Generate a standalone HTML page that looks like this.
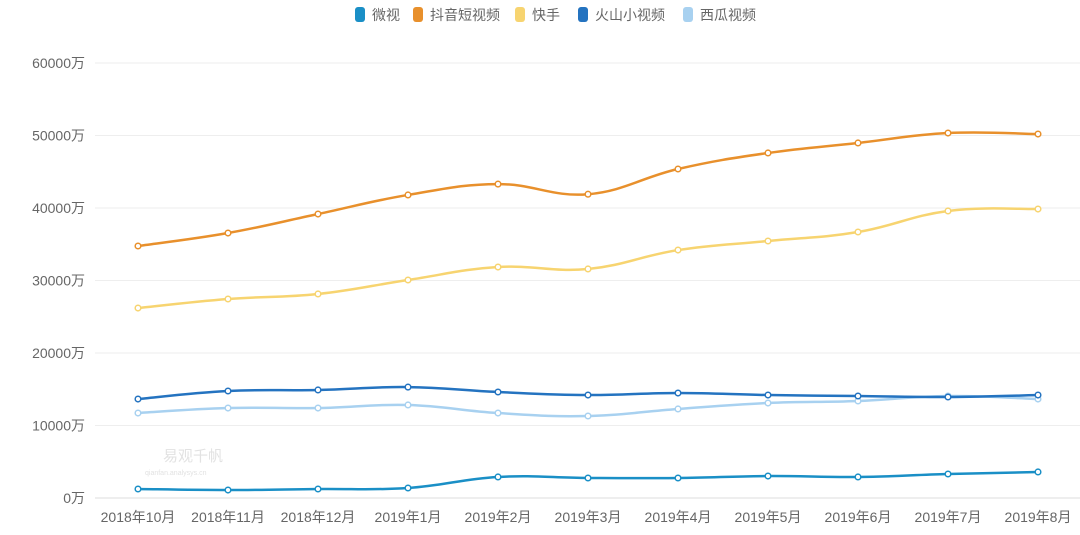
<!DOCTYPE html>
<html><head><meta charset="utf-8"><style>
body{margin:0;background:#fff;}
svg{display:block;font-family:"Liberation Sans","Noto Sans CJK SC",sans-serif;}
</style></head><body>
<svg id="c" width="1080" height="535"></svg>
<script>
const categories=["2018年10月","2018年11月","2018年12月","2019年1月","2019年2月","2019年3月","2019年4月","2019年5月","2019年6月","2019年7月","2019年8月"];
const seriesNames=["微视","抖音短视频","快手","火山小视频","西瓜视频"];
const weishi=[1240,1100,1240,1380,2900,2760,2760,3030,2900,3310,3590];
const douyin=[34760,36550,39170,41800,43300,41900,45380,47590,48970,50340,50200];
const kuaishou=[26200,27450,28140,30070,31860,31590,34200,35450,36690,39590,39860];
const huoshan=[13650,14760,14900,15300,14620,14200,14480,14200,14070,13930,14200];
const xigua=[11720,12410,12410,12830,11720,11310,12280,13100,13380,14070,13650];
const yTicks=[0,10000,20000,30000,40000,50000,60000];
const colors=["#1a8fc6","#e8902c","#f7d470","#2473c0","#a8d1f0"];
const seriesData=[weishi,douyin,kuaishou,huoshan,xigua];
const NS="http://www.w3.org/2000/svg";
const svg=document.getElementById('c');
const x0=93,band=90,yBase=498,yTop=63,yMax=60000;
const xs=i=>x0+band*i+band/2;
const ys=v=>yBase-(v/yMax)*(yBase-yTop);
function el(t,a,p){const e=document.createElementNS(NS,t);for(const k in a)e.setAttribute(k,a[k]);(p||svg).appendChild(e);return e;}
yTicks.forEach(v=>{
 const g=el('line',{x1:95,x2:1080,y1:ys(v),y2:ys(v),stroke:v===0?'#ddd':'#eee','stroke-width':1});
 
 
 const t=el('text',{x:85,y:ys(v)+5,'text-anchor':'end','font-size':14,fill:'#666'});
 t.textContent=v+'万';
 
 
});
categories.forEach((c,i)=>{
 const t=el('text',{x:xs(i),y:522,'text-anchor':'middle','font-size':14,fill:'#666'});
 t.textContent=c;
 
 
});
const wm=el('text',{x:163,y:461,'font-size':15,fill:'#e2e2e2'});wm.textContent='易观千帆';


const wm2=el('text',{x:145,y:475,'font-size':7,fill:'#e2e2e2'});wm2.textContent='qianfan.analysys.cn';


function path(pts){let d='M'+pts[0][0]+','+pts[0][1];const s=0.2;
 for(let i=0;i<pts.length-1;i++){const p0=pts[Math.max(0,i-1)],p1=pts[i],p2=pts[i+1],p3=pts[Math.min(pts.length-1,i+2)];
  d+=' C'+(p1[0]+(p2[0]-p0[0])*s)+','+(p1[1]+(p2[1]-p0[1])*s)+' '+(p2[0]-(p3[0]-p1[0])*s)+','+(p2[1]-(p3[1]-p1[1])*s)+' '+p2[0]+','+p2[1];}
 return d;}
[4,3,2,1,0].forEach(k=>{
 const pts=seriesData[k].map((v,i)=>[xs(i),ys(v)]);
 const p=el('path',{d:path(pts),fill:'none',stroke:colors[k],'stroke-width':2.5});
 
 
 pts.forEach(q=>{const c=el('circle',{cx:q[0],cy:q[1],r:2.8,fill:'#fff',stroke:colors[k],'stroke-width':1.5});
  
  });
});
const lx=[355,413,515,578,683];
seriesNames.forEach((n,k)=>{
 const r=el('rect',{x:lx[k],y:7,width:10,height:15,rx:3,fill:colors[k]});
 
 
 const t=el('text',{x:lx[k]+17,y:20,'font-size':14,fill:'#666'});t.textContent=n;
 
 
});
</script>
</body></html>
